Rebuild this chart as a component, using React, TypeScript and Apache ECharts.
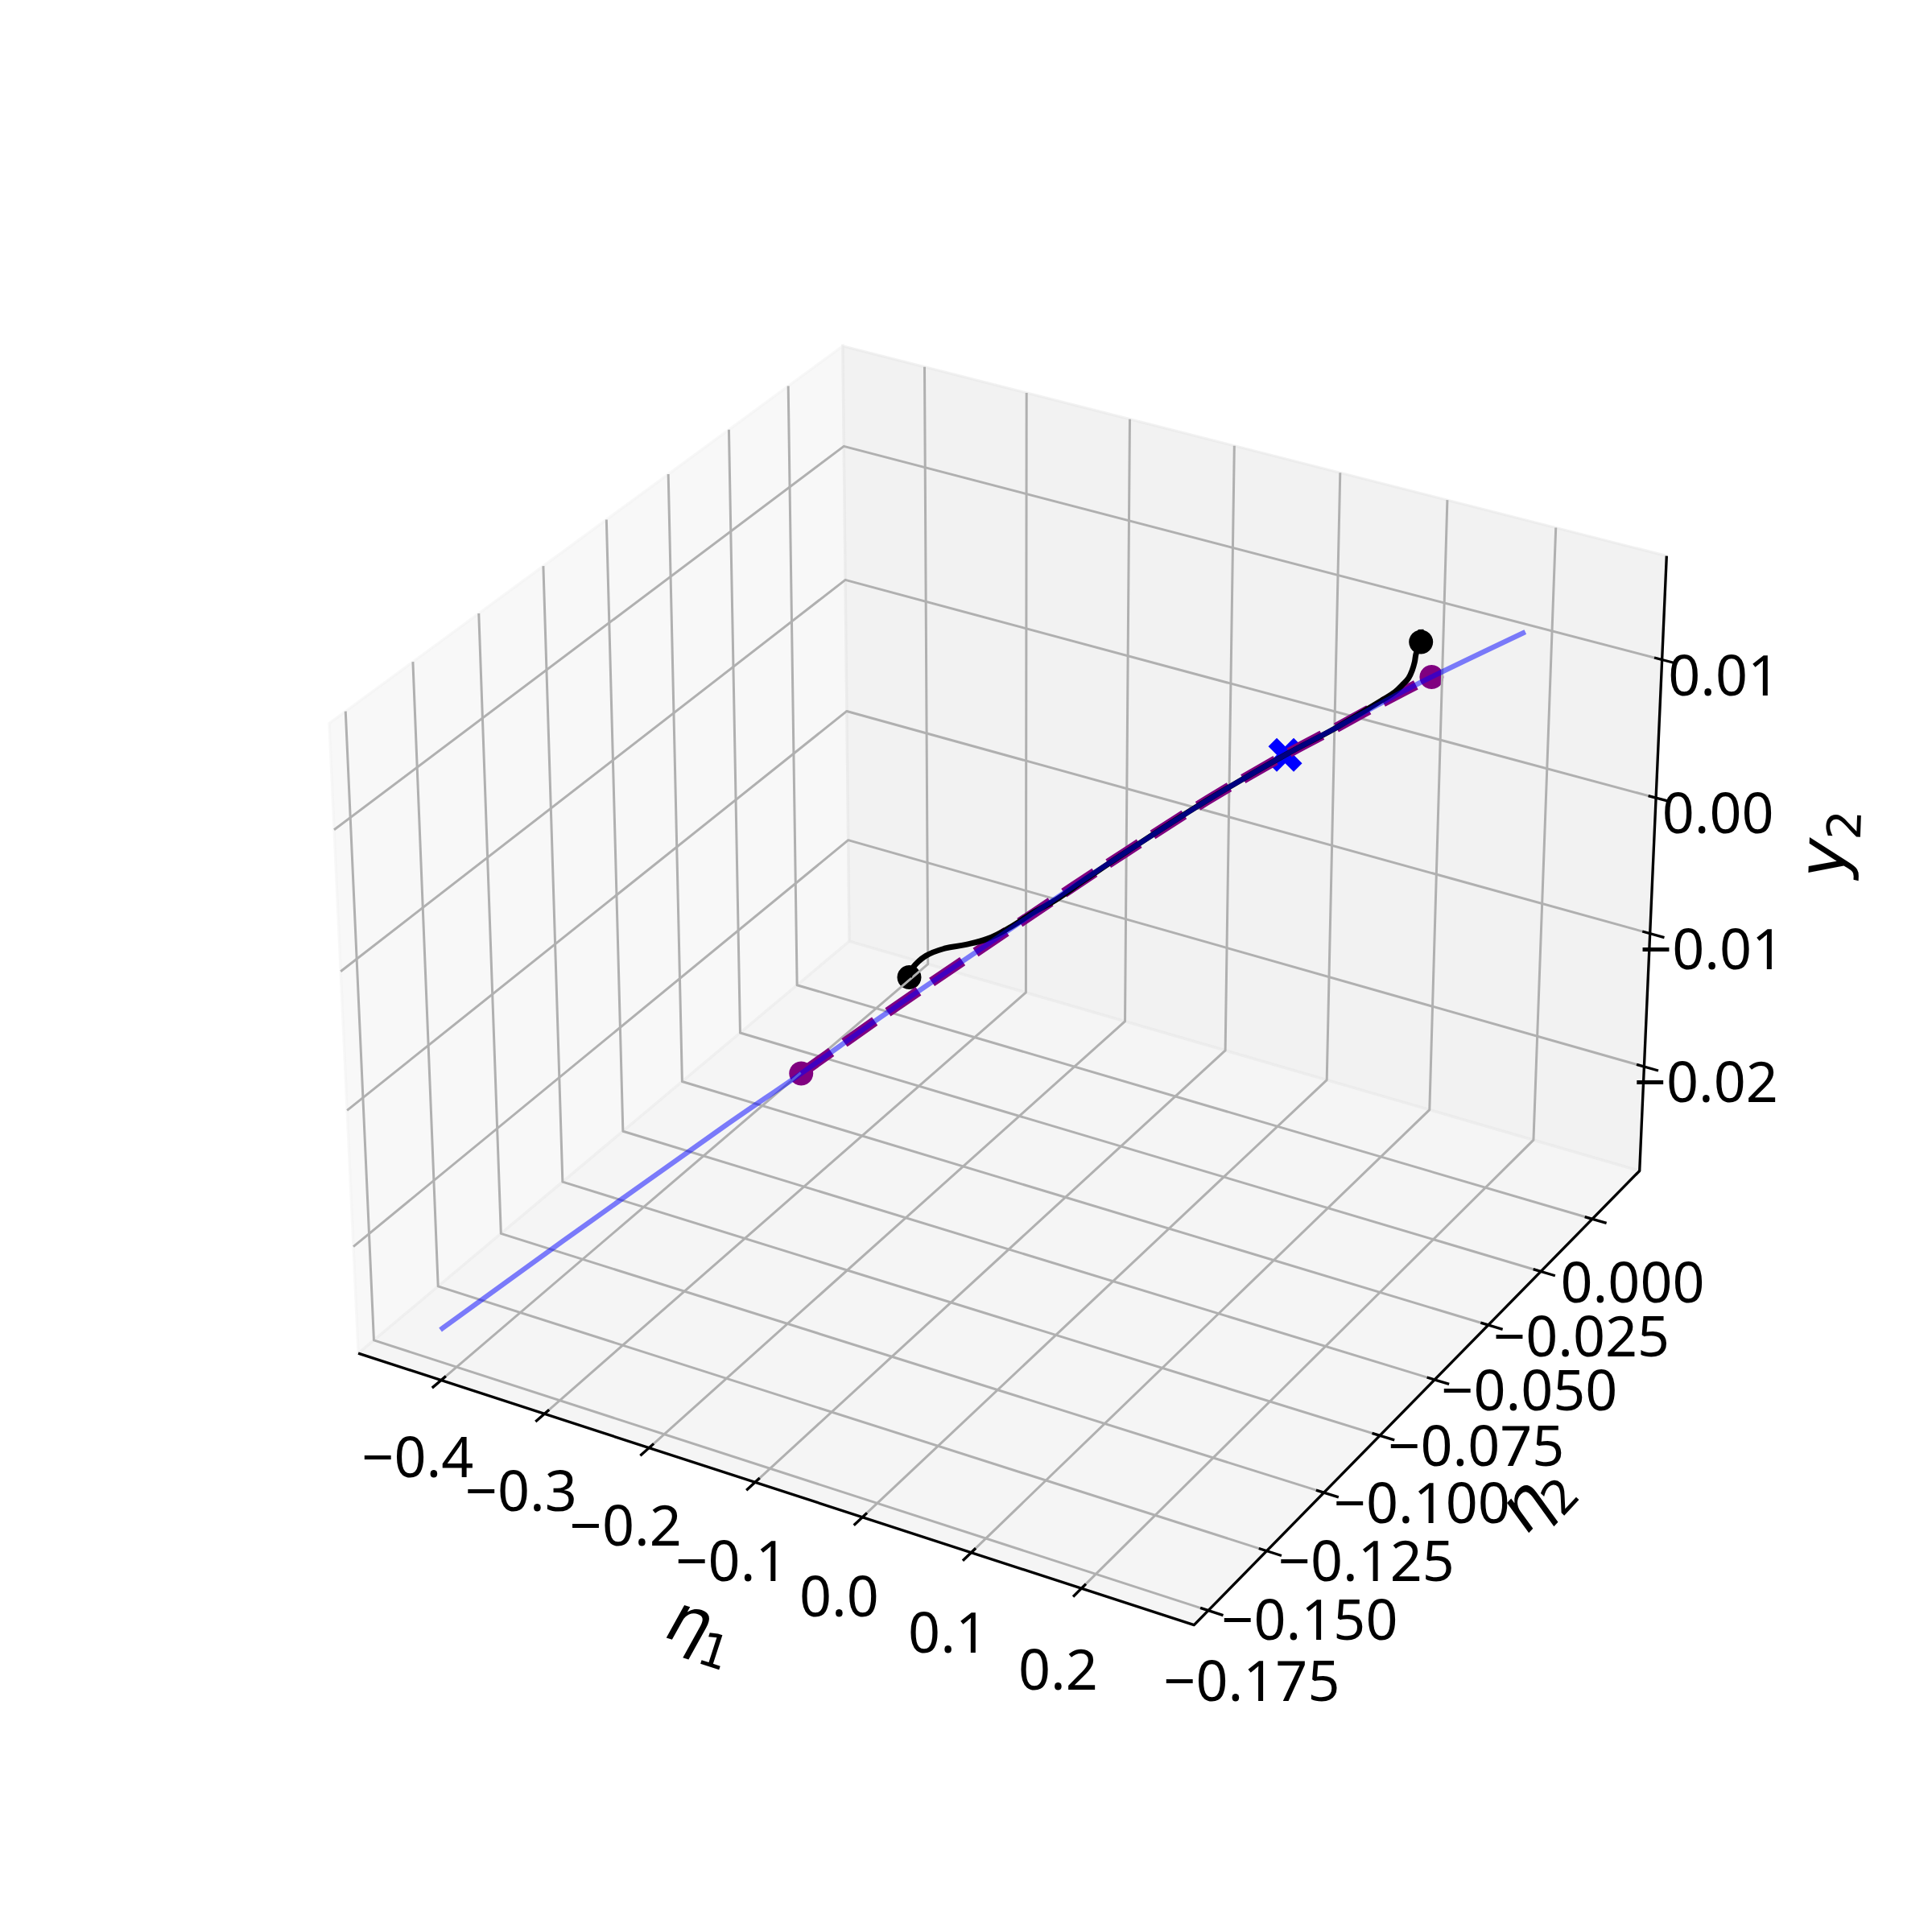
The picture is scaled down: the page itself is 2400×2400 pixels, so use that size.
import React, { useEffect, useRef } from "react";
import * as echarts from "echarts";

// Axis limits (data units)
const eta1Lim = [-0.4811, 0.3008];
const eta2Lim = [-0.181, 0.0234];
const y2Lim = [-0.02796, 0.01739];

// Ticks
const eta1Ticks = [-0.4, -0.3, -0.2, -0.1, 0.0, 0.1, 0.2];
const eta1TickLabels = ["\u22120.4", "\u22120.3", "\u22120.2", "\u22120.1", "0.0", "0.1", "0.2"];
const eta2Ticks = [-0.175, -0.15, -0.125, -0.1, -0.075, -0.05, -0.025, 0.0];
const eta2TickLabels = ["\u22120.175", "\u22120.150", "\u22120.125", "\u22120.100", "\u22120.075", "\u22120.050", "\u22120.025", "0.000"];
const y2Ticks = [-0.02, -0.01, 0.0, 0.01];
const y2TickLabels = ["\u22120.02", "\u22120.01", "0.00", "0.01"];

// Blue curve: [eta1, eta2, y2]
const blueCurve = [
  [-0.4188, -0.1726, -0.02592],
  [-0.3526, -0.1509, -0.02126],
  [-0.2635, -0.1226, -0.01512],
  [-0.2196, -0.1096, -0.0122],
  [-0.175, -0.0955, -0.00914],
  [-0.1262, -0.0814, -0.00592],
  [-0.0636, -0.064, -0.00184],
  [-0.0313, -0.0556, 0.00022],
  [0.0181, -0.0436, 0.00329],
  [0.0693, -0.0339, 0.00626],
  [0.1048, -0.0285, 0.0082],
  [0.1378, -0.0232, 0.01004],
  [0.1711, -0.0186, 0.01183],
  [0.2393, -0.0118, 0.01541],
];
// Purple dashed curve
const purpleCurve = [
  [-0.2196, -0.1096, -0.0122],
  [-0.175, -0.0955, -0.00914],
  [-0.1262, -0.0814, -0.00592],
  [-0.0636, -0.064, -0.00184],
  [-0.0313, -0.0556, 0.00022],
  [0.0181, -0.0436, 0.00329],
  [0.0693, -0.0339, 0.00626],
  [0.1048, -0.0285, 0.0082],
  [0.1378, -0.0232, 0.01004],
  [0.1711, -0.0186, 0.01183],
];
// Black trajectory
const blackCurve = [
  [-0.1749, -0.0838, -0.008],
  [-0.1791, -0.0806, -0.0079],
  [-0.174, -0.0771, -0.0074],
  [-0.1589, -0.0759, -0.0067],
  [-0.138, -0.0761, -0.00592],
  [-0.1183, -0.0758, -0.0051],
  [-0.103, -0.0737, -0.0043],
  [-0.0869, -0.0701, -0.0033],
  [-0.0727, -0.0676, -0.0025],
  [-0.0562, -0.0625, -0.0014],
  [-0.0313, -0.0556, 0.00022],
  [0.0181, -0.0436, 0.00329],
  [0.0693, -0.0339, 0.00626],
  [0.1048, -0.0285, 0.0082],
  [0.1339, -0.022, 0.0099],
  [0.1417, -0.0204, 0.0104],
  [0.1435, -0.0181, 0.0106],
  [0.1457, -0.0163, 0.0109],
  [0.1442, -0.0139, 0.0111],
  [0.1404, -0.0109, 0.0112],
  [0.1343, -0.0071, 0.0112],
  [0.1308, -0.0032, 0.0114],
  [0.1205, 0.0019, 0.0114],
];
const purpleDots = [
  [-0.2196, -0.1096, -0.0122],
  [0.1711, -0.0186, 0.01183],
];
const blackDots = [
  [-0.1749, -0.0838, -0.008],
  [0.1308, -0.0032, 0.0114],
];
const blueCross = [[0.0693, -0.0339, 0.00626]];

const FONT = "'Noto Sans', sans-serif";
const TICK_SIZE = 70;

// matplotlib-style camera: elev 30, azim -60, box aspect 4:4:3
const ASPECT = [1.1429, 1.1429, 0.8572];
const U = [0.866025, 0.5, 0];
const V = [-0.25, 0.433013, 0.866025];
const W = [0.433013, -0.75, 0.5];
const DIST = 10;
const SCALE = 10410;
const CX = 1255;
const CY = 1187.5;

const dot = (a: number[], b: number[]) => a[0] * b[0] + a[1] * b[1] + a[2] * b[2];
const frac = (lim: number[], v: number) => (v - lim[0]) / (lim[1] - lim[0]);
const projF = (tx: number, ty: number, tz: number) => {
  const d = [(tx - 0.5) * ASPECT[0], (ty - 0.5) * ASPECT[1], (tz - 0.5) * ASPECT[2]];
  const depth = DIST - dot(W, d);
  return [CX + (SCALE * dot(U, d)) / depth, CY - (SCALE * dot(V, d)) / depth];
};
const proj = (p: number[]) => projF(frac(eta1Lim, p[0]), frac(eta2Lim, p[1]), frac(y2Lim, p[2]));

const TICK_OUT = 0.017;
const TICK_IN = 0.009;

const polyLine = (data: number[][], color: string, width: number, extra: any = {}) => ({
  type: "line",
  data,
  showSymbol: false,
  symbol: "none",
  silent: true,
  clip: false,
  lineStyle: { color, width, cap: "butt", join: "round", ...extra },
});

const markers = (data: number[][], symbol: string, size: number, color: string) => ({
  type: "scatter",
  silent: true,
  clip: false,
  symbol,
  symbolSize: size,
  itemStyle: { color, opacity: 1 },
  data,
});

const GRID = "#b0b0b0";
const GW = 3;
const AW = 3.33;

function buildOption() {
  const series: any[] = [];
  // Panes
  const panes = [
    { pts: [[0, 0, 0], [0, 0, 1], [0, 1, 1], [0, 1, 0]], c: "rgba(242,242,242,0.5)" },
    { pts: [[0, 1, 0], [0, 1, 1], [1, 1, 1], [1, 1, 0]], c: "rgba(230,230,230,0.5)" },
    { pts: [[0, 0, 0], [1, 0, 0], [1, 1, 0], [0, 1, 0]], c: "rgba(236,236,236,0.5)" },
  ];
  series.push({
    type: "custom",
    silent: true,
    clip: false,
    data: panes.map((_, i) => [i]),
    renderItem: (params: any, api: any) => {
      const pane = panes[params.dataIndex];
      return {
        type: "polygon",
        shape: { points: pane.pts.map((q) => api.coord(projF(q[0], q[1], q[2]))) },
        style: { fill: pane.c, stroke: pane.c, lineWidth: 3.3 },
      };
    },
  });
  // Grid lines
  eta1Ticks.forEach((v) => {
    const t = frac(eta1Lim, v);
    series.push(polyLine([projF(t, 0, 0), projF(t, 1, 0), projF(t, 1, 1)], GRID, GW));
  });
  eta2Ticks.forEach((v) => {
    const t = frac(eta2Lim, v);
    series.push(polyLine([projF(1, t, 0), projF(0, t, 0), projF(0, t, 1)], GRID, GW));
  });
  y2Ticks.forEach((v) => {
    const t = frac(y2Lim, v);
    series.push(polyLine([projF(0, 0, t), projF(0, 1, t), projF(1, 1, t)], GRID, GW));
  });
  // Axis lines
  series.push(polyLine([projF(0, 0, 0), projF(1, 0, 0), projF(1, 1, 0), projF(1, 1, 1)], "#000", AW));
  // Tick marks
  eta1Ticks.forEach((v) => {
    const t = frac(eta1Lim, v);
    series.push(polyLine([projF(t, -TICK_OUT, 0), projF(t, TICK_IN, 0)], "#000", AW));
  });
  eta2Ticks.forEach((v) => {
    const t = frac(eta2Lim, v);
    series.push(polyLine([projF(1 + TICK_OUT, t, 0), projF(1 - TICK_IN, t, 0)], "#000", AW));
  });
  y2Ticks.forEach((v) => {
    const t = frac(y2Lim, v);
    series.push(polyLine([projF(1 + TICK_OUT, 1, t), projF(1 - TICK_IN, 1, t)], "#000", AW));
  });
  // Purple dashed + dots
  series.push(markers(purpleDots.map(proj), "circle", 30, "#800080"));
  series.push({ ...polyLine(purpleCurve.map(proj), "#800080", 12.5, { type: [46, 20] }), smooth: 0.3 });
  // Blue cross marker
  series.push(
    markers(
      blueCross.map(proj),
      "path://M-1 -2L0 -1L1 -2L2 -1L1 0L2 1L1 2L0 1L-1 2L-2 1L-1 0L-2 -1Z",
      42,
      "#0000ff"
    )
  );
  // Black trajectory + dots
  series.push({ ...polyLine(blackCurve.map(proj), "#000", 7), smooth: 0.4 });
  series.push(markers(blackDots.map(proj), "circle", 30, "#000"));
  // Blue line on top
  series.push({ ...polyLine(blueCurve.map(proj), "#0000ff", 6.25, { opacity: 0.5, cap: "square" }), smooth: 0.3 });

  // Tick labels
  const labels: { p: number[]; s: string }[] = [];
  eta1Ticks.forEach((v, i) => {
    const p = projF(frac(eta1Lim, v), 0, 0);
    labels.push({ p: [p[0] - 29, p[1] + 93 + (5.5 * i) / 6], s: eta1TickLabels[i] });
  });
  eta2Ticks.forEach((v, i) => {
    const p = projF(1, frac(eta2Lim, v), 0);
    labels.push({ p: [p[0] + 54 - (4 * i) / 7, p[1] + 85 - (8 * i) / 7], s: eta2TickLabels[i] });
  });
  y2Ticks.forEach((v, i) => {
    const p = projF(1, 1, frac(y2Lim, v));
    labels.push({ p: [p[0] + 77, p[1] + 17], s: y2TickLabels[i] });
  });
  series.push({
    type: "custom",
    silent: true,
    clip: false,
    data: labels.map((_, i) => [i]),
    renderItem: (params: any, api: any) => {
      const l = labels[params.dataIndex];
      const c = api.coord(l.p);
      return {
        type: "text",
        x: c[0],
        y: c[1],
        style: {
          text: l.s,
          fill: "#000",
          font: `${TICK_SIZE}px ${FONT}`,
          align: "center",
          verticalAlign: "middle",
        },
      };
    },
  });

  // Axis titles
  const titles = [
    { p: [857, 2014], rot: (-18 * Math.PI) / 180, main: "\u03b7", sub: "1", subX: 40 },
    { p: [1893, 1869], rot: (47 * Math.PI) / 180, main: "\u03b7", sub: "2", subX: 38.5 },
    { p: [2264, 1066], rot: (88 * Math.PI) / 180, main: "y", sub: "2", subX: 42 },
  ];
  series.push({
    type: "custom",
    silent: true,
    clip: false,
    data: titles.map((_, i) => [i]),
    renderItem: (params: any, api: any) => {
      const t = titles[params.dataIndex];
      const c = api.coord(t.p);
      return {
        type: "group",
        x: c[0],
        y: c[1],
        rotation: t.rot,
        children: [
          {
            type: "text",
            x: 0,
            y: 0,
            style: {
              text: t.main,
              fill: "#000",
              font: `italic 83px 'DejaVu Sans', sans-serif`,
              align: "center",
              verticalAlign: "middle",
            },
          },
          {
            type: "text",
            x: t.subX,
            y: 26,
            style: {
              text: t.sub,
              fill: "#000",
              font: `58px 'DejaVu Sans', sans-serif`,
              align: "center",
              verticalAlign: "middle",
            },
          },
        ],
      };
    },
  });

  return {
    animation: false,
    backgroundColor: "#fff",
    grid: { left: 0, right: 0, top: 0, bottom: 0 },
    xAxis: { type: "value", min: 0, max: 2400, show: false },
    yAxis: { type: "value", min: 0, max: 2400, inverse: true, show: false },
    series,
  };
}

export default function App() {
  const ref = useRef<HTMLDivElement>(null);
  useEffect(() => {
    document.body.style.margin = "0";
    const chart = echarts.init(ref.current!, undefined, { renderer: "svg" });
    chart.setOption(buildOption() as any);
    return () => chart.dispose();
  }, []);
  return <div ref={ref} style={{ width: 2400, height: 2400 }} />;
}
